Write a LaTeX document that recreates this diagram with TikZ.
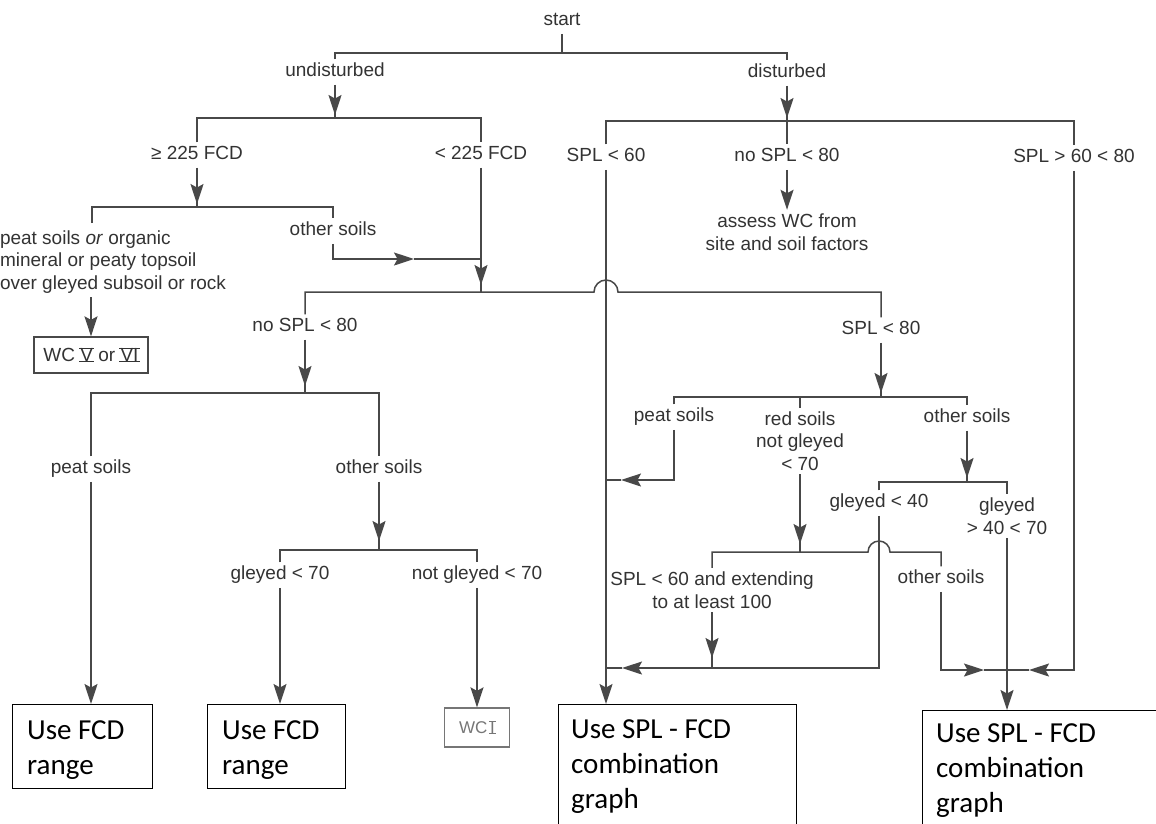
\documentclass[tikz,border=0pt]{standalone}
\usepackage{fontspec}
\setmainfont{Liberation Sans}
\newfontfamily\boxfont{Carlito}
\usetikzlibrary{arrows.meta}
\definecolor{ln}{HTML}{484848}
\definecolor{tx}{HTML}{333333}
\definecolor{lg}{HTML}{767676}
\newcommand{\romnum}[1]{\leavevmode\hbox{\setbox0=\hbox{#1}%
  \rlap{\kern-1.2pt\vrule width \dimexpr\wd0+2.4pt\relax height 0.8pt depth 0.6pt}%
  \rlap{\kern-1.2pt\raise\dimexpr\ht0-0.8pt\relax\hbox{\vrule width \dimexpr\wd0+2.4pt\relax height 1.4pt depth 0pt}}%
  \box0\relax}}
\begin{document}
\begin{tikzpicture}[x=1pt,y=-1pt,
  lab/.style={font=\fontsize{19}{22.5}\selectfont, text=tx, inner sep=0pt, outer sep=4pt, text height=13.5pt, text depth=4pt},
  mlab/.style={font=\fontsize{19}{22.5}\selectfont, text=tx, inner sep=0pt, outer sep=4pt, align=center},
  conn/.style={draw=ln, line width=1.5pt},
  arr/.style={conn, -{Stealth[length=20pt,width=13pt,inset=3.5pt]}},
  gap/.style={shorten >=#1},
  bigbox/.style={draw=black, line width=1.4pt, inner sep=0pt, anchor=north west},
  boxtext/.style={font=\boxfont\fontsize{29}{35}\selectfont, inner sep=0pt, anchor=north west, align=left, text=black}
]
\useasboundingbox[fill=white] (0,0) rectangle (1156,823);

% ---- labels ----
\node[lab] (start) at (562,21) {start};
\node[lab] (undist) at (335,72) {undisturbed};
\node[lab] (dist) at (787,73) {disturbed};
\node[lab] (ge225) at (197,155) {≥ 225 FCD};
\node[lab] (lt225) at (481,155) {< 225 FCD};
\node[lab] (spl60) at (606,157) {SPL < 60};
\node[lab] (nospla) at (787,157) {no SPL < 80};
\node[lab] (spl6080) at (1074,158) {SPL > 60 < 80};
\node[mlab] (assess) at (787,232) {assess WC from\\site and soil factors};
\node[mlab, align=left, anchor=west, outer sep=0pt] (peatorg) at (0,262) {peat soils \textit{or} organic\\mineral or peaty topsoil\\over gleyed subsoil or rock};
\node[lab] (other1) at (333,231) {other soils};
\node[draw=ln, line width=1.3pt, minimum width=114pt, minimum height=36pt, inner sep=0pt,
      font=\fontsize{19}{22}\selectfont, text=tx] (wc56) at (91,355) {WC \romnum{V} or \romnum{VI}};
\node[lab] (nosplb) at (305,327) {no SPL < 80};
\node[lab] (spl80) at (881,330) {SPL < 80};
\node[lab] (peat2) at (91,469) {peat soils};
\node[lab] (other2) at (379,469) {other soils};
\node[lab] (peat3) at (674,417) {peat soils};
\node[mlab] (red) at (800,441) {red soils\\not gleyed\\< 70};
\node[lab] (other3) at (967,418) {other soils};
\node[lab] (gl40) at (879,503) {gleyed < 40};
\node[mlab] (gl4070) at (1007,516) {gleyed\\> 40 < 70};
\node[lab] (gl70) at (280,575) {gleyed < 70};
\node[lab] (ngl70) at (477,575) {not gleyed < 70};
\node[mlab] (ext) at (712,590) {SPL < 60 and extending\\to at least 100};
\node[lab] (other4) at (941,579) {other soils};

% ---- result boxes ----
\node[bigbox, minimum width=140pt, minimum height=84pt] (b1) at (12,704) {};
\node[boxtext] (t1) at ([shift={(15pt,-16pt)}]b1.north west) {Use FCD\\range};
\node[bigbox, minimum width=138pt, minimum height=84pt] (b2) at (207,704) {};
\node[boxtext] (t2) at ([shift={(15pt,-16pt)}]b2.north west) {Use FCD\\range};
\node[draw=lg, line width=1.3pt, minimum width=65pt, minimum height=39pt, inner sep=0pt,
      font=\fontsize{17}{20}\selectfont, text=lg] (wc1) at (477,727.5) {WC\,\romnum{I}};
\node[bigbox, minimum width=238pt, minimum height=140pt] (b3) at (558,704) {};
\node[boxtext] (t3) at ([shift={(13pt,-15pt)}]b3.north west) {Use SPL - FCD\\combination\\graph};
\node[bigbox, minimum width=240pt, minimum height=140pt] (b4) at (922,710) {};
\node[boxtext] (t4) at ([shift={(14pt,-13pt)}]b4.north west) {Use SPL - FCD\\combination\\graph};

% ---- junction coordinates ----
\coordinate (j0) at (562,53);
\coordinate (j1) at (335,118);
\coordinate (j2) at (197,207);
\coordinate (k1) at (92,223);
\coordinate (m1) at (414,259);
\coordinate (j3) at (481,259);
\coordinate (j4) at (481,292);
\coordinate (hA) at (594,292);
\coordinate (j5) at (305,393);
\coordinate (j6) at (379,550);
\coordinate (j7) at (787,121);
\coordinate (m2) at (1029,670);
\coordinate (j8) at (1007,670);
\coordinate (j9) at (881,397);
\coordinate (m3) at (621,480);
\coordinate (j10) at (606,480);
\coordinate (j11) at (800,552);
\coordinate (j12) at (967,482);
\coordinate (hB) at (868,552);
\coordinate (m4) at (622,668);
\coordinate (j13) at (606,668);
\coordinate (j14) at (712,668);
\coordinate (m5) at (984,670);

% ---- left half ----
\draw[conn] (start.south) -- (j0);
\draw[conn] (undist.north) |- (j0) -| (dist.north);
\draw[conn] (undist.south) -- (j1);
\draw[arr, gap=3pt] (undist.south) -- (j1);
\draw[conn] (ge225.north) |- (j1) -| (lt225.north);
\draw[conn] (ge225.south) -- (j2);
\draw[arr, gap=3pt] (ge225.south) -- (j2);
\draw[conn] (k1) |- (j2) -| (other1.north);
\draw[arr] (peatorg.south -| wc56.north) ++(0,4) -- (wc56.north);
\draw[arr] (other1.south) |- (m1);
\draw[conn] (m1) -- (j3);
\draw[conn] (lt225.south) -- (j4);
\draw[arr, gap=7pt] (lt225.south) -- (j4);
\draw[conn] (nosplb.north) |- (hA) arc[start angle=180,end angle=0,radius=12pt] -| (spl80.north);
\draw[conn] (nosplb.south) -- (j5);
\draw[arr, gap=7pt] (nosplb.south) -- (j5);
\draw[conn] (peat2.north) |- (j5) -| (other2.north);
\draw[arr] (peat2.south) -- (peat2.south |- b1.north);
\draw[conn] (other2.south) -- (j6);
\draw[arr, gap=9pt] (other2.south) -- (j6);
\draw[conn] (gl70.north) |- (j6) -| (ngl70.north);
\draw[arr] (gl70.south) -- (gl70.south |- b2.north);
\draw[arr] (ngl70.south) -- (ngl70.south |- wc1.north);

% ---- right half ----
\draw[conn] (dist.south) -- (j7);
\draw[arr, gap=3pt] (dist.south) -- (j7);
\draw[conn] (spl60.north) |- (j7) -| (spl6080.north);
\draw[conn] (j7) -- (nospla.north);
\draw[arr] (nospla.south) -- (assess.north);
\draw[arr] (spl60.south) -- (spl60.south |- b3.north);
\draw[arr] (spl6080.south) |- (m2);
\draw[conn] (m2) -- (j8);
\draw[conn] (spl80.south) -- (j9);
\draw[arr, gap=4pt] (spl80.south) -- (j9);
\draw[conn] (peat3.north) |- (j9) -| (other3.north);
\draw[conn] (red.north) -- (red.north |- j9);
\draw[arr] (peat3.south) |- (m3);
\draw[conn] (m3) -- (j10);
\draw[conn] (red.south) -- (j11);
\draw[arr, gap=8pt] (red.south) -- (j11);
\draw[conn] (other3.south) -- (j12);
\draw[arr, gap=4pt] (other3.south) -- (j12);
\draw[conn] (gl40.north) |- (j12) -| (gl4070.north);
\draw[conn] (ext.north) |- (hB) arc[start angle=180,end angle=0,radius=11pt] -| (other4.north);
\draw[arr] (gl40.south) |- (m4);
\draw[conn] (m4) -- (j13);
\draw[conn] (ext.south) -- (j14);
\draw[arr, gap=10pt] (ext.south) -- (j14);
\draw[arr] (other4.south) |- (m5);
\draw[conn] (m5) -- (j8);
\draw[arr] (gl4070.south) -- (gl4070.south |- b4.north);
\end{tikzpicture}
\end{document}
